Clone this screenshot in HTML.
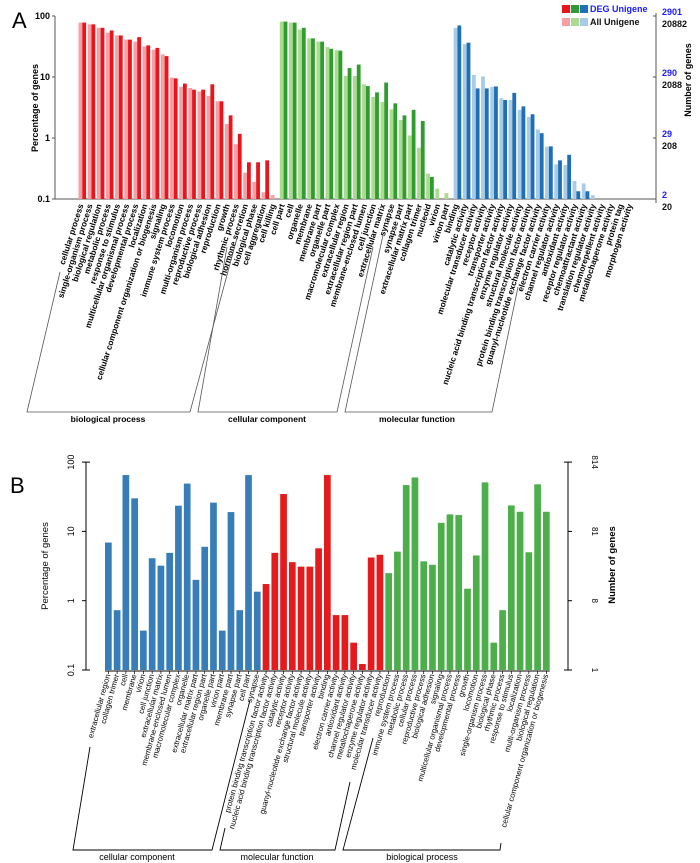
<!DOCTYPE html>
<html><head><meta charset="utf-8"><style>
body{margin:0;background:#fff}
svg{display:block;font-family:"Liberation Sans",Arial,sans-serif}
</style></head><body>
<svg id="chart" width="700" height="863" viewBox="0 0 700 863">
<text x="12" y="28" font-size="22">A</text>
<text x="10" y="493" font-size="22">B</text>
<g id="pa"></g>
<g id="pb"></g>
</svg>
<script>
// ---------- Panel A data ----------
const aBPcats=["cellular process","single-organism process","biological regulation","metabolic process","response to stimulus","multicellular organismal process","developmental process","localization","cellular component organization or biogenesis","signaling","immune system process","locomotion","multi-organism process","reproductive process","biological adhesion","reproduction","growth","rhythmic process","hormone secretion","biological phase","cell aggregation","cell killing"];
const aBPall=[78,73,64,53,48,41,38,31.6,28,23.5,9.8,6.9,6.6,5.8,4.9,4.0,1.7,0.79,0.27,0.19,0.129,0.116];
const aBPdeg=[78,73,64,58,48,41,45,33,30,22,9.5,7.8,6.2,6.2,7.6,4.0,2.35,1.17,0.40,0.40,0.43,0];
const aCCcats=["cell part","cell","organelle","membrane","membrane part","organelle part","macromolecular complex","extracellular region","extracellular region part","membrane-enclosed lumen","cell junction","extracellular matrix","synapse","synapse part","extracellular matrix part","collagen trimer","nucleoid","virion","virion part"];
const aCCall=[81,78,60,43,38,31,27.5,10.4,10.4,7.6,4.7,3.9,2.95,1.97,1.1,0.69,0.26,0.148,0.125];
const aCCdeg=[81,78,64,43,38,29,27,14,16,7.1,5.6,8.1,3.7,2.35,2.9,1.9,0.23,0,0];
const aMFcats=["binding","catalytic activity","molecular transducer activity","receptor activity","transporter activity","nucleic acid binding transcription factor activity","enzyme regulator activity","structural molecule activity","protein binding transcription factor activity","guanyl-nucleotide exchange factor activity","electron carrier activity","channel regulator activity","antioxidant activity","receptor regulator activity","chemoattractant activity","translation regulator activity","chemorepellent activity","metallochaperone activity","protein tag","morphogen activity"];
const aMFall=[64,34.5,10.8,10.2,6.9,4.5,4.2,2.9,2.2,1.38,0.72,0.37,0.36,0.197,0.18,0.115,0,0,0,0];
const aMFdeg=[70,36.5,6.5,6.5,7.0,4.2,5.5,3.3,2.45,1.2,0.73,0.43,0.53,0.134,0.134,0,0,0,0,0];
const aTicks=[0.1,1,10,100];
const aRightBlue=["2","29","290","2901"];
const aRightBlack=["20","208","2088","20882"];
// ---------- Panel B data ----------
const bCCcats=["extracellular region","collagen trimer","cell","membrane","virion","cell junction","extracellular matrix","membrane-enclosed lumen","macromolecular complex","organelle","extracellular matrix part","extracellular region part","organelle part","virion part","membrane part","synapse part","cell part","synapse"];
const bCCvals=[6.9,0.73,65,30,0.37,4.1,3.2,4.9,23.5,49,2.0,6.0,26,0.37,19,0.73,65,1.35];
const bMFcats=["protein binding transcription factor activity","nucleic acid binding transcription factor activity","catalytic activity","receptor activity","guanyl-nucleotide exchange factor activity","structural molecule activity","transporter activity","binding","electron carrier activity","antioxidant activity","channel regulator activity","metallochaperone activity","enzyme regulator activity","molecular transducer activity"];
const bMFvals=[1.74,4.9,34.6,3.6,3.1,3.1,5.7,65,0.62,0.62,0.248,0.122,4.2,4.6];
const bBPcats=["reproduction","immune system process","metabolic process","cellular process","reproductive process","biological adhesion","signaling","multicellular organismal process","developmental process","growth","locomotion","single-organism process","biological phase","rhythmic process","response to stimulus","localization","multi-organism process","biological regulation","cellular component organization or biogenesis"];
const bBPvals=[2.5,5.1,46.6,60,3.7,3.3,13.3,17.6,17.2,1.49,4.5,51,0.248,0.73,23.7,19.2,5.0,47.8,19.2];
const bTicks=[0.1,1,10,100];
const bRightLabels=["1","8","81","814"];

const NS="http://www.w3.org/2000/svg";
function mk(parent,tag,attrs,txt){const e=document.createElementNS(NS,tag);for(const k in attrs)e.setAttribute(k,attrs[k]);if(txt!==undefined)e.textContent=txt;parent.appendChild(e);return e;}

// ===== Panel A =====
const pa=document.getElementById('pa');
const aBase=199,aDec=61,aX0=78.5,aStep=9.15;
function ayA(v){return aBase-(Math.log10(v)+1)*aDec;}
let ln=mk(pa,'line',{x1:55,y1:ayA(100),x2:55,y2:aBase,stroke:'#555','stroke-width':1});

ln=mk(pa,'line',{x1:55,y1:aBase,x2:656,y2:aBase,stroke:'#555','stroke-width':1});

ln=mk(pa,'line',{x1:656,y1:ayA(100)-3,x2:656,y2:aBase+4,stroke:'#555','stroke-width':1});

aTicks.forEach((t,i)=>{const y=ayA(t);
 let tk=mk(pa,'line',{x1:52,y1:y,x2:55,y2:y,stroke:'#555'});
 
 let tl=mk(pa,'text',{x:50,y:y+3,'font-size':9,'font-weight':'bold','text-anchor':'end'},String(t));
 
 let rt=mk(pa,'line',{x1:653,y1:y,x2:656,y2:y,stroke:'#555'});
 
 let rb=mk(pa,'text',{x:662,y:y-1,'font-size':9,'font-weight':'bold',fill:'#1a1aff'},aRightBlue[i]);
 
 let rk=mk(pa,'text',{x:662,y:y+11,'font-size':9,'font-weight':'bold',fill:'#111'},aRightBlack[i]);
 
});
let at=mk(pa,'text',{x:0,y:0,'font-size':9,'font-weight':'bold','text-anchor':'middle',transform:'translate(38,108) rotate(-90)'},'Percentage of genes');

at=mk(pa,'text',{x:0,y:0,'font-size':9,'font-weight':'bold','text-anchor':'middle',transform:'translate(691,80) rotate(-90)'},'Number of genes');


const aGroups=[[aBPcats,aBPall,aBPdeg,'#f6a0a3','#e8151f'],[aCCcats,aCCall,aCCdeg,'#abdb8e','#2f9c2f'],[aMFcats,aMFall,aMFdeg,'#a8cbe8','#1f6fb4']];
let ai=0;
aGroups.forEach(g=>{g[0].forEach((c,j)=>{const x=aX0+ai*aStep;
 if(g[1][j]>0){const r=mk(pa,'rect',{x:x,y:ayA(g[1][j]),width:3.8,height:aBase-ayA(g[1][j]),fill:g[3]});
  }
 if(g[2][j]>0){const r=mk(pa,'rect',{x:x+3.8,y:ayA(g[2][j]),width:3.8,height:aBase-ayA(g[2][j]),fill:g[4]});
  }
 const cx=x+5;
 const t=mk(pa,'text',{x:0,y:0,'font-size':8.3,'font-weight':'bold','text-anchor':'end',transform:'translate('+cx+',205) rotate(-72.5)'},c);
 
 ai++;});});
// legend
[['#e8151f','#2f9c2f','#1f6fb4'],['#f6a0a3','#abdb8e','#a8cbe8']].forEach((row,r)=>{row.forEach((c,k)=>{
 const s=mk(pa,'rect',{x:562+k*9,y:5+r*13,width:8,height:8,fill:c});
 });});
let lg=mk(pa,'text',{x:590,y:12,'font-size':9,'font-weight':'bold',fill:'#1a1aff'},'DEG Unigene');

lg=mk(pa,'text',{x:590,y:25,'font-size':9,'font-weight':'bold',fill:'#111'},'All Unigene');

// brackets A
let br=mk(pa,'polyline',{points:'60,272 27,412 190,412 237,238',fill:'none',stroke:'#555','stroke-width':0.8});

br=mk(pa,'polyline',{points:'227,247 198,412 337,412 373,247',fill:'none',stroke:'#555','stroke-width':0.8});

br=mk(pa,'polyline',{points:'383,235 345,412 492,412 518,287',fill:'none',stroke:'#555','stroke-width':0.8});

[['biological process',108],['cellular component',267],['molecular function',417]].forEach(d=>{
 const t=mk(pa,'text',{x:d[1],y:422,'font-size':8.5,'font-weight':'bold','text-anchor':'middle'},d[0]);
 });

// ===== Panel B =====
const pb=document.getElementById('pb');
const bBase=670,bDec=69.3,bX0=105,bStep=8.76,bW=6.7;
function ayB(v){return bBase-(Math.log10(v)+1)*bDec;}
ln=mk(pb,'polyline',{points:'90,'+ayB(100)+' 86,'+ayB(100)+' 86,'+bBase+' 90,'+bBase,fill:'none',stroke:'#000','stroke-width':1});

ln=mk(pb,'line',{x1:bX0,y1:bBase+1,x2:bX0+50*bStep+bW,y2:bBase+1,stroke:'#000','stroke-width':1});

ln=mk(pb,'polyline',{points:'564,'+ayB(100)+' 568,'+ayB(100)+' 568,'+bBase+' 564,'+bBase,fill:'none',stroke:'#000','stroke-width':1});

bTicks.forEach((t,i)=>{const y=ayB(t);
 let tk=mk(pb,'line',{x1:82,y1:y,x2:86,y2:y,stroke:'#000'});
 
 let tl=mk(pb,'text',{x:0,y:0,'font-size':9,'text-anchor':'middle',transform:'translate(74,'+y+') rotate(-90)'},String(t));
 
 let rt=mk(pb,'line',{x1:568,y1:y,x2:572,y2:y,stroke:'#000'});
 
 let rl=mk(pb,'text',{x:0,y:0,'font-size':8,'text-anchor':'middle',transform:'translate(592,'+y+') rotate(90)'},bRightLabels[i]);
 
});
at=mk(pb,'text',{x:0,y:0,'font-size':9.5,'text-anchor':'middle',transform:'translate(48,566) rotate(-90)'},'Percentage of genes');

at=mk(pb,'text',{x:0,y:0,'font-size':9.5,'font-weight':'bold','text-anchor':'middle',transform:'translate(615,565) rotate(-90)'},'Number of genes');

const bGroups=[[bCCcats,bCCvals,'#377eb8'],[bMFcats,bMFvals,'#e41a1c'],[bBPcats,bBPvals,'#4daf4a']];
let bi=0;
bGroups.forEach(g=>{g[0].forEach((c,j)=>{const x=bX0+bi*bStep;
 const r=mk(pb,'rect',{x:x,y:ayB(g[1][j]),width:bW,height:bBase-ayB(g[1][j]),fill:g[2]});
 
 const cx=x+bW/2;
 const tk=mk(pb,'line',{x1:cx,y1:bBase+1,x2:cx,y2:bBase+4,stroke:'#000','stroke-width':0.7});
 
 const t=mk(pb,'text',{x:0,y:0,'font-size':7.8,'text-anchor':'end',transform:'translate('+(cx+2)+',675) rotate(-74.5)'},c);
 
 bi++;});});
br=mk(pb,'polyline',{points:'90,747 73,850 212,850 250,700',fill:'none',stroke:'#000','stroke-width':0.9});

br=mk(pb,'polyline',{points:'225,828 220,850 335,850 350,782',fill:'none',stroke:'#000','stroke-width':0.9});

br=mk(pb,'polyline',{points:'373,738 343,850 500,850 501,843',fill:'none',stroke:'#000','stroke-width':0.9});

[['cellular component',137],['molecular function',277],['biological process',422]].forEach(d=>{
 const t=mk(pb,'text',{x:d[1],y:860,'font-size':9,'text-anchor':'middle'},d[0]);
 });
</script>
</body></html>
